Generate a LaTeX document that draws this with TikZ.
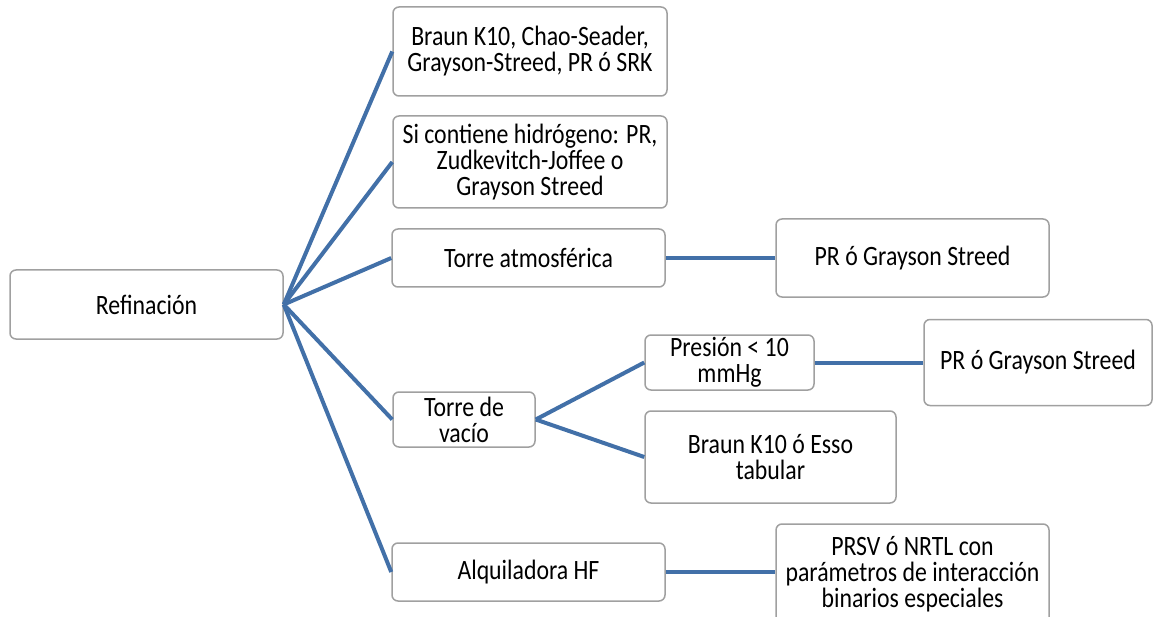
\documentclass[tikz,border=0pt]{standalone}
\usepackage{fontspec}
\setmainfont{Carlito}[FakeStretch=0.85]
\definecolor{linkblue}{RGB}{66,112,168}
\definecolor{boxgray}{RGB}{160,160,160}
\begin{document}
\begin{tikzpicture}[x=1pt,y=-1pt,
  box/.style={draw=boxgray, line width=1.5pt, rounded corners=6pt, fill=white,
    inner sep=0pt, align=center, font=\fontsize{28}{26}\selectfont},
  link/.style={draw=linkblue, line width=4pt}]
\useasboundingbox (0,0) rectangle (1155,617);
\clip (0,0) rectangle (1155,617);
\node[box, minimum width=273pt, minimum height=69pt] (ref) at (146.5,304.5) {Refinación};
\node[box, minimum width=274pt, minimum height=89pt] (b1) at (530,51.5) {Braun K10, Chao-Seader,\\Grayson-Streed, PR ó SRK};
\node[box, minimum width=274pt, minimum height=92pt] (b2) at (530,162) {Si contiene hidrógeno: PR,\\Zudkevitch-Joffee o\\Grayson Streed};
\node[box, minimum width=273pt, minimum height=58pt] (atm) at (528.5,258) {Torre atmosférica};
\node[box, minimum width=273pt, minimum height=78pt] (pr1) at (912.5,258) {PR ó Grayson Streed};
\node[box, minimum width=142pt, minimum height=55pt] (vac) at (464,419.5) {Torre de\\vacío};
\node[box, minimum width=169pt, minimum height=55pt] (pres) at (729.5,362.5) {Presión < 10\\mmHg};
\node[box, minimum width=228pt, minimum height=86pt] (pr2) at (1038,362.5) {PR ó Grayson Streed};
\node[box, minimum width=251pt, minimum height=92pt] (b3) at (770.5,457) {Braun K10 ó Esso\\tabular};
\node[box, minimum width=273pt, minimum height=58pt] (alq) at (528.5,572) {Alquiladora HF};
\node[box, minimum width=273pt, minimum height=100pt] (prsv) at (912.5,574) {PRSV ó NRTL con\\parámetros de interacción\\binarios especiales};
\draw[link] (ref.east) -- (b1.west);
\draw[link] (ref.east) -- (b2.west);
\draw[link] (ref.east) -- (atm.west);
\draw[link] (ref.east) -- (vac.west);
\draw[link] (ref.east) -- (alq.west);
\draw[link] (atm.east) -- (pr1.west);
\draw[link] (vac.east) -- (pres.west);
\draw[link] (vac.east) -- (b3.west);
\draw[link] (pres.east) -- (pr2.west);
\draw[link] (alq.east) -- (alq.east -| prsv.west);
\end{tikzpicture}
\end{document}
